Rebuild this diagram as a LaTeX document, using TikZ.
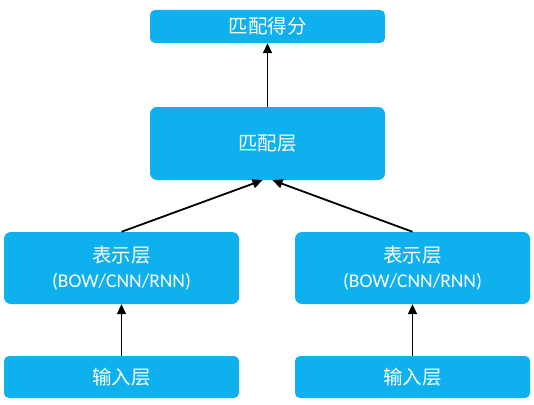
\documentclass[tikz,border=0pt]{standalone}
\usepackage{fontspec}
\setmainfont{Carlito}
\newfontfamily\cjk{Noto Sans CJK SC}
\usetikzlibrary{arrows.meta}
\definecolor{boxblue}{RGB}{14,176,238}
\tikzset{
  box/.style={fill=boxblue, draw=none, rounded corners=5pt, text=white, align=center,
    font=\fontsize{19.5}{25}\selectfont, inner sep=0pt},
  conn/.style={draw=black, line width=1.8pt, -{Triangle[length=10pt,width=9pt]}}
}
\begin{document}
\begin{tikzpicture}[x=1pt,y=-1pt]
\useasboundingbox (0,0) rectangle (534,404);
\node[box, minimum width=235pt, minimum height=33pt] (score) at (267.5,26.5) {\cjk 匹配得分};
\node[box, rounded corners=7pt, minimum width=235pt, minimum height=73pt] (match) at (267.5,143.5) {\cjk 匹配层};
\node[box, rounded corners=7pt, minimum width=235pt, minimum height=72pt] (repL) at (121.5,268) {{\cjk 表示层}\\(BOW/CNN/RNN)};
\node[box, rounded corners=7pt, minimum width=235pt, minimum height=72pt] (repR) at (412.5,268) {{\cjk 表示层}\\(BOW/CNN/RNN)};
\node[box, minimum width=235pt, minimum height=42pt] (inL) at (121.5,377) {\cjk 输入层};
\node[box, minimum width=235pt, minimum height=42pt] (inR) at (412.5,377) {\cjk 输入层};
\draw[conn] (inL.north) -- (repL.south);
\draw[conn] (inR.north) -- (repR.south);
\draw[conn] (repL.north) -- ([xshift=-5pt]match.south);
\draw[conn] (repR.north) -- ([xshift=5pt]match.south);
\draw[conn] (match.north) -- (score.south);
\end{tikzpicture}
\end{document}
